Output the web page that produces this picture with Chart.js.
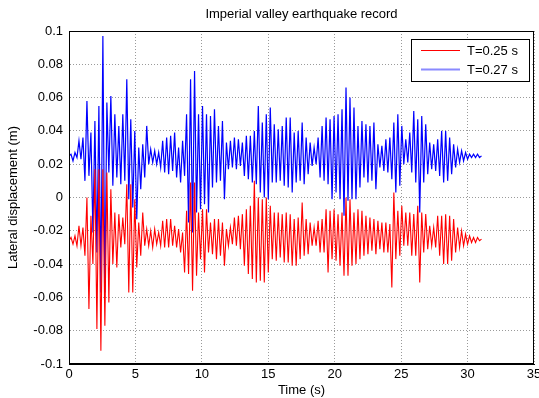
<!DOCTYPE html>
<html><head><meta charset="utf-8">
<script src="https://cdn.jsdelivr.net/npm/chart.js@4.4.1/dist/chart.umd.min.js"></script>
<style>html,body{margin:0;padding:0;background:#fff}canvas{display:block}</style>
</head><body>
<canvas id="c" width="539" height="398"></canvas>
<script>
const chartTitle = 'Imperial valley earthquake record';
const xTitle = 'Time (s)';
const yTitle = 'Lateral displacement (m)';
const seriesLabels = ['T=0.25 s', 'T=0.27 s'];
const xTicks = [0, 5, 10, 15, 20, 25, 30, 35];
const xTickLabels = ['0', '5', '10', '15', '20', '25', '30', '35'];
const yTicks = [0.1, 0.08, 0.06, 0.04, 0.02, 0, -0.02, -0.04, -0.06, -0.08, -0.1];
const yTickLabels = ['0.1', '0.08', '0.06', '0.04', '0.02', '0', '-0.02', '-0.04', '-0.06', '-0.08', '-0.1'];

const timeSec = [
0,0.15,0.3,0.45,0.6,0.75,0.9,1.05,1.2,1.35,
1.5,1.65,1.8,1.95,2.1,2.25,2.4,2.55,2.7,2.85,
3,3.15,3.3,3.45,3.6,3.75,3.9,4.05,4.2,4.35,
4.5,4.65,4.8,4.95,5.1,5.25,5.4,5.55,5.7,5.85,
6,6.15,6.3,6.45,6.6,6.75,6.9,7.05,7.2,7.35,
7.5,7.65,7.8,7.95,8.1,8.25,8.4,8.55,8.7,8.85,
9,9.15,9.3,9.45,9.6,9.75,9.9,10.05,10.2,10.35,
10.5,10.65,10.8,10.95,11.1,11.25,11.4,11.55,11.7,11.85,
12,12.15,12.3,12.45,12.6,12.75,12.9,13.05,13.2,13.35,
13.5,13.65,13.8,13.95,14.1,14.25,14.4,14.55,14.7,14.85,
15,15.15,15.3,15.45,15.6,15.75,15.9,16.05,16.2,16.35,
16.5,16.65,16.8,16.95,17.1,17.25,17.4,17.55,17.7,17.85,
18,18.15,18.3,18.45,18.6,18.75,18.9,19.05,19.2,19.35,
19.5,19.65,19.8,19.95,20.1,20.25,20.4,20.55,20.7,20.85,
21,21.15,21.3,21.45,21.6,21.75,21.9,22.05,22.2,22.35,
22.5,22.65,22.8,22.95,23.1,23.25,23.4,23.55,23.7,23.85,
24,24.15,24.3,24.45,24.6,24.75,24.9,25.05,25.2,25.35,
25.5,25.65,25.8,25.95,26.1,26.25,26.4,26.55,26.7,26.85,
27,27.15,27.3,27.45,27.6,27.75,27.9,28.05,28.2,28.35,
28.5,28.65,28.8,28.95,29.1,29.25,29.4,29.55,29.7,29.85,
30,30.15,30.3,30.45,30.6,30.75,30.9,31.05
];

const dispT025 = [
-0.026,-0.024,-0.028,-0.023,-0.029,-0.017,-0.029,-0.018,-0.035,0.000,
-0.067,-0.011,-0.040,0.017,-0.079,0.017,-0.092,0.017,-0.077,0.015,
-0.063,0.005,-0.040,-0.009,-0.042,-0.010,-0.030,-0.012,-0.028,0.008,
-0.057,0.008,-0.057,-0.001,-0.042,-0.015,-0.035,-0.009,-0.029,-0.019,
-0.029,-0.020,-0.030,-0.019,-0.028,-0.021,-0.029,-0.014,-0.030,-0.013,
-0.030,-0.013,-0.029,-0.017,-0.030,-0.019,-0.033,-0.021,-0.045,-0.008,
-0.046,0.009,-0.056,0.009,-0.047,-0.009,-0.037,-0.007,-0.045,-0.007,
-0.033,-0.015,-0.034,-0.013,-0.037,-0.013,-0.035,-0.015,-0.041,-0.019,
-0.029,-0.018,-0.028,-0.012,-0.029,-0.011,-0.031,-0.010,-0.041,-0.007,
-0.046,-0.005,-0.049,0.010,-0.051,0.000,-0.050,-0.001,-0.051,0.000,
-0.045,-0.005,-0.037,-0.009,-0.038,-0.009,-0.036,-0.010,-0.039,-0.009,
-0.039,-0.010,-0.041,-0.013,-0.041,-0.012,-0.037,-0.003,-0.035,-0.013,
-0.034,-0.015,-0.029,-0.018,-0.029,-0.014,-0.033,-0.013,-0.033,-0.007,
-0.045,-0.008,-0.037,-0.007,-0.038,-0.010,-0.041,-0.009,-0.047,0.000,
-0.047,-0.001,-0.041,-0.009,-0.040,-0.007,-0.037,-0.008,-0.035,-0.011,
-0.034,-0.012,-0.032,-0.013,-0.034,-0.014,-0.031,-0.015,-0.033,-0.015,
-0.033,-0.016,-0.054,0.003,-0.037,-0.008,-0.035,-0.005,-0.029,-0.009,
-0.029,-0.009,-0.035,-0.010,-0.035,-0.005,-0.051,-0.009,-0.033,-0.010,
-0.031,-0.017,-0.029,-0.018,-0.030,-0.011,-0.035,-0.011,-0.040,-0.010,
-0.040,-0.011,-0.038,-0.013,-0.033,-0.018,-0.030,-0.020,-0.029,-0.022,
-0.028,-0.023,-0.027,-0.024,-0.027,-0.024,-0.026,-0.025
];

const dispT027 = [
0.025,0.026,0.022,0.027,0.024,0.034,0.023,0.036,0.010,0.058,
0.013,0.039,-0.021,0.046,-0.033,0.055,-0.057,0.097,-0.057,0.057,
0.015,0.061,0.007,0.050,0.012,0.043,0.008,0.050,0.010,0.071,
-0.001,0.047,-0.006,0.040,-0.013,0.030,0.005,0.032,0.012,0.043,
0.020,0.029,0.021,0.028,0.020,0.027,0.018,0.034,0.015,0.036,
0.014,0.037,0.016,0.039,0.012,0.030,0.009,0.034,0.013,0.050,
-0.015,0.071,-0.021,0.076,-0.009,0.050,-0.007,0.055,-0.004,0.050,
-0.009,0.049,0.006,0.053,0.009,0.043,0.010,0.046,-0.001,0.033,
0.017,0.034,0.018,0.036,0.017,0.035,0.019,0.033,0.013,0.037,
0.011,0.037,0.009,0.040,0.008,0.055,0.003,0.045,0.000,0.050,
-0.001,0.054,0.009,0.044,0.009,0.041,0.010,0.043,0.007,0.048,
0.006,0.048,0.003,0.039,0.009,0.040,0.010,0.045,0.008,0.036,
0.014,0.033,0.019,0.030,0.020,0.036,0.012,0.043,0.010,0.048,
0.008,0.047,-0.001,0.049,0.003,0.050,-0.001,0.053,-0.011,0.066,
-0.002,0.060,-0.001,0.054,-0.001,0.043,0.006,0.046,0.012,0.044,
0.009,0.043,0.010,0.045,0.005,0.032,0.018,0.031,0.016,0.035,
0.015,0.036,0.011,0.045,0.003,0.050,0.007,0.043,0.020,0.035,
0.021,0.039,0.015,0.052,0.009,0.047,-0.009,0.049,0.009,0.044,
0.014,0.033,0.017,0.032,0.016,0.035,0.013,0.040,0.009,0.040,
0.010,0.036,0.014,0.032,0.018,0.029,0.021,0.028,0.022,0.027,
0.023,0.026,0.024,0.026,0.024,0.026,0.024,0.025
];

const FONT = "'Liberation Sans', Arial, sans-serif";
const toPoints = ys => timeSec.map((t, i) => ({x: t, y: ys[i]}));

const frameAndLegend = {
  id: 'frameAndLegend',
  afterDraw(chart) {
    const {ctx, chartArea: a} = chart;
    ctx.save();
    ctx.strokeStyle = '#000';
    ctx.lineWidth = 1;
    ctx.strokeRect(a.left + 0.5, a.top + 0.5, a.right - a.left - 1, a.bottom - a.top - 1);
    // legend box
    const w = 118, h = 42;
    const bx = a.right - 5 - w, by = a.top + 8;
    ctx.fillStyle = '#fff';
    ctx.fillRect(bx, by, w, h);
    ctx.strokeRect(bx + 0.5, by + 0.5, w, h);
    const ds = chart.data.datasets;
    const rows = [by + 11, by + 30];
    ctx.font = '13px ' + FONT;
    ctx.textBaseline = 'middle';
    ds.forEach((d, i) => {
      ctx.beginPath();
      ctx.strokeStyle = d.legendColor;
      ctx.lineWidth = d.legendWidth;
      ctx.moveTo(bx + 10, rows[i] + 0.5);
      ctx.lineTo(bx + 49, rows[i] + 0.5);
      ctx.stroke();
      ctx.fillStyle = '#000';
      ctx.fillText(d.label, bx + 56, rows[i] + 1);
    });
    ctx.restore();
  }
};

new Chart(document.getElementById('c'), {
  type: 'line',
  data: {
    datasets: [
      {label: seriesLabels[0], data: toPoints(dispT025), borderColor: '#ff0000', borderWidth: 1.1, pointRadius: 0, tension: 0, legendColor: '#ff0000', legendWidth: 1},
      {label: seriesLabels[1], data: toPoints(dispT027), borderColor: '#0000ff', borderWidth: 1.2, pointRadius: 0, tension: 0, legendColor: '#8a8aff', legendWidth: 2}
    ]
  },
  options: {
    responsive: false,
    animation: false,
    devicePixelRatio: 1,
    layout: {padding: {left: 0, right: 5, top: 0, bottom: 0}},
    plugins: {legend: {display: false}, title: {display: false}, tooltip: {enabled: false}},
    scales: {
      x: {
        type: 'linear', position: 'bottom', min: 0, max: 35,
        afterBuildTicks: s => { s.ticks = xTicks.map(v => ({value: v})); },
        afterFit: s => { s.height = 34; s.paddingLeft = 0; s.paddingRight = 0; },
        ticks: {font: {family: FONT, size: 13}, color: '#000', padding: 3, maxRotation: 0,
          callback: (v) => xTickLabels[xTicks.indexOf(v)]},
        grid: {color: '#9a9a9a', lineWidth: 1, drawTicks: false},
        border: {display: true, color: '#000', dash: [1, 2]},
        title: {display: true, text: xTitle, font: {family: FONT, size: 13}, color: '#000', padding: {top: 0, bottom: 0}}
      },
      x2: {
        type: 'linear', position: 'top', min: 0, max: 35,
        afterFit: s => { s.height = 31; },
        ticks: {display: false},
        grid: {display: false, drawTicks: false},
        border: {display: false},
        title: {display: true, text: chartTitle, font: {family: FONT, size: 13}, color: '#000', padding: {top: 7, bottom: 0}}
      },
      y: {
        type: 'linear', position: 'left', min: -0.1, max: 0.1,
        afterBuildTicks: s => { s.ticks = yTicks.map(v => ({value: v})); },
        afterFit: s => { s.width = 69; s.paddingTop = 0; s.paddingBottom = 0; },
        ticks: {font: {family: FONT, size: 13}, color: '#000', padding: 6,
          callback: (v) => yTickLabels[yTicks.findIndex(t => Math.abs(t - v) < 1e-9)]},
        grid: {color: '#9a9a9a', lineWidth: 1, drawTicks: false},
        border: {display: true, color: '#000', dash: [1, 2]},
        title: {display: true, text: yTitle, font: {family: FONT, size: 13}, color: '#000', padding: {top: 6, bottom: 0}}
      }
    }
  },
  plugins: [frameAndLegend]
});
</script>
</body></html>
